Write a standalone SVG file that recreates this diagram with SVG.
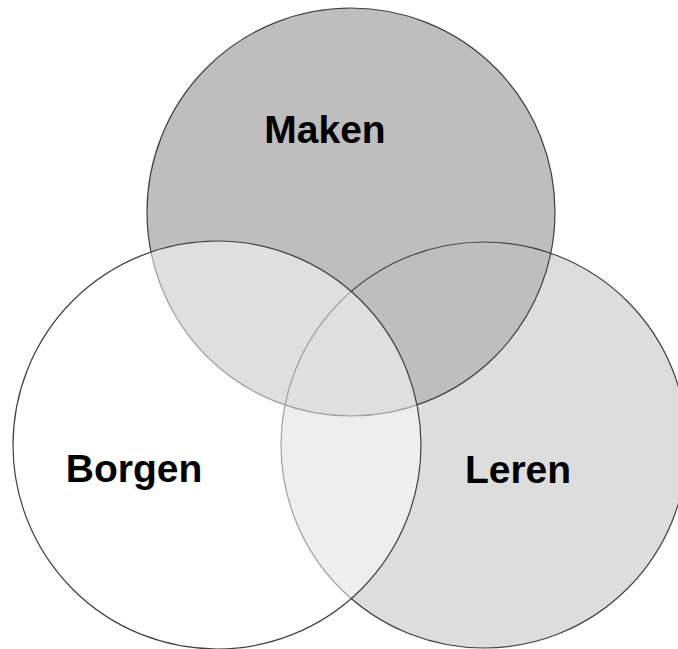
<svg xmlns="http://www.w3.org/2000/svg" width="678" height="649" viewBox="0 0 678 649">
<style>
.ln{fill:none;stroke:#404040;stroke-width:1.2}
.lbl{font-family:"Liberation Sans",Arial,sans-serif;font-weight:bold;font-size:39px;fill:#000;text-anchor:middle}
</style>
<rect width="678" height="649" fill="#fff"/>
<g id="leren">
<circle cx="484" cy="445" r="203" fill="#dddddd"/>
</g>
<g id="maken">
<circle cx="351" cy="212" r="204" fill="#bebebe"/>
<circle class="ln" cx="351" cy="212" r="204"/>
</g>
<g id="leren-outline">
<circle class="ln" cx="484" cy="445" r="203"/>
</g>
<g id="borgen">
<circle cx="217" cy="445" r="204" fill="#fff" fill-opacity="0.5"/>
<circle class="ln" cx="217" cy="445" r="204"/>
</g>
<g id="labels">
<text class="lbl" x="325" y="143">Maken</text>
<text class="lbl" x="134" y="482">Borgen</text>
<text class="lbl" x="518" y="483">Leren</text>
</g>
</svg>
